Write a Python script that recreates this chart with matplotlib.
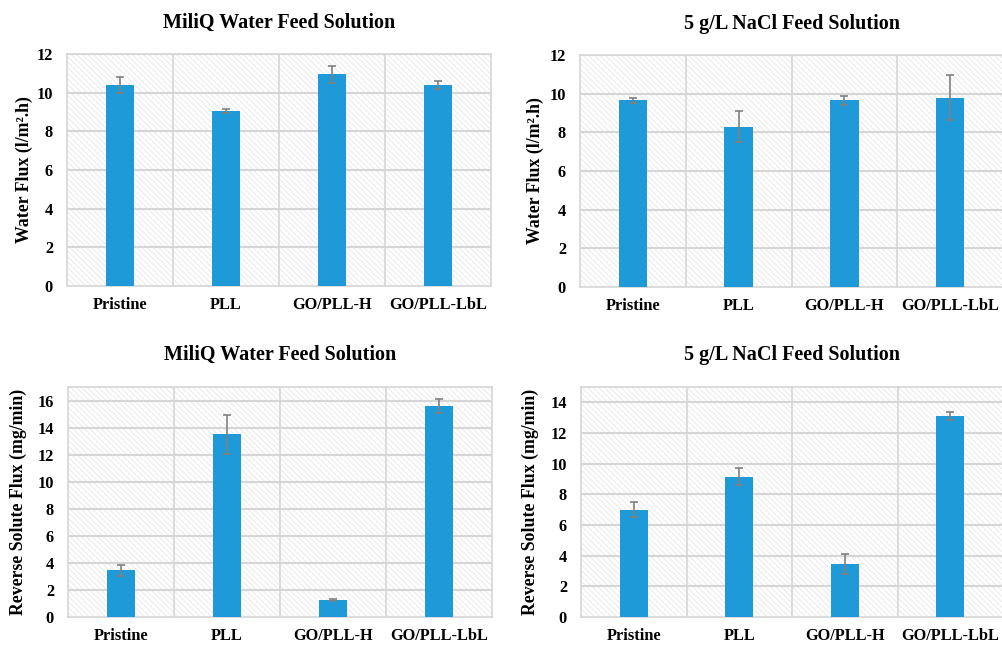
import matplotlib
matplotlib.use('Agg')
import matplotlib.pyplot as plt
from matplotlib.patches import Rectangle
import numpy as np

# membrane samples
categories = ['Pristine', 'PLL', 'GO/PLL-H', 'GO/PLL-LbL']

# water flux (l/m2.h)
wf_miliq = [10.4, 9.05, 10.95, 10.4]
wf_miliq_err = [0.4, 0.08, 0.45, 0.2]
wf_nacl = [9.65, 8.3, 9.65, 9.8]
wf_nacl_err = [0.15, 0.8, 0.25, 1.15]

# reverse solute flux (mg/min)
rsf_miliq = [3.45, 13.5, 1.25, 15.6]
rsf_miliq_err = [0.4, 1.45, 0.1, 0.5]
rsf_nacl = [7.0, 9.15, 3.45, 13.1]
rsf_nacl_err = [0.5, 0.55, 0.65, 0.25]

plt.rcParams['font.family'] = 'Liberation Serif'
plt.rcParams['font.weight'] = 'bold'
plt.rcParams['hatch.linewidth'] = 0.5

BAR = '#1f9ad8'
GRID = '#d6d6d6'
W, H = 1002, 647


def box(l, t, r, b):
	return [l / W, (H - b) / H, (r - l) / W, (b - t) / H]


def panel(fig, rect, vals, errs, title, ylabel, ymax, yticks, title_y, ylab_x):
	ax = fig.add_axes(rect)
	ax.add_patch(Rectangle((0, 0), 1, 1, transform=ax.transAxes, facecolor='white',
		edgecolor='#e2e2e2', hatch='\\\\\\\\\\\\', lw=0, zorder=0))
	x = np.arange(len(categories))
	ax.bar(x, vals, width=0.27, color=BAR, zorder=3)
	ax.errorbar(x, vals, yerr=errs, fmt='none', ecolor='#808080', elinewidth=1.2,
		capsize=3, capthick=1.2, zorder=4)
	ax.set_xlim(-0.5, len(categories) - 0.5)
	ax.set_ylim(0, ymax)
	ax.set_yticks(yticks)
	ax.set_xticks(x)
	ax.set_xticklabels(categories, fontsize=11.8, fontweight='bold')
	for t in ax.get_yticklabels():
		t.set_fontsize(11.8)
		t.set_fontweight('bold')
	ax.tick_params(length=0, axis='y', pad=10)
	ax.tick_params(length=0, axis='x', pad=8)
	for yt in yticks[1:]:
		ax.axhline(yt, color=GRID, lw=1.5, zorder=1)
	for xv in [0.5, 1.5, 2.5]:
		ax.axvline(xv, color=GRID, lw=1.2, zorder=1)
	for s in ax.spines.values():
		s.set_color(GRID)
		s.set_linewidth(1.2)
	pos = ax.get_position()
	# rotated axis label, placed in figure coordinates
	fig.text(ylab_x, pos.y0 + pos.height / 2, ylabel, rotation=90, ha='center',
		va='center', fontsize=12.8, fontweight='bold')
	fig.text(pos.x0 + pos.width / 2, title_y, title, ha='center', va='center',
		fontsize=14.5, fontweight='bold')
	return ax


def main():
	fig = plt.figure(figsize=(10.02, 6.47), dpi=100)
	panel(fig, box(67, 54, 491, 286), wf_miliq, wf_miliq_err, 'MiliQ Water Feed Solution',
		'Water Flux (l/m².h)', 12, np.arange(0, 13, 2), 1 - 23 / H, 24 / W)
	panel(fig, box(580, 55, 1003, 287), wf_nacl, wf_nacl_err, '5 g/L NaCl Feed Solution',
		'Water Flux (l/m².h)', 12, np.arange(0, 13, 2), 1 - 24 / H, 535 / W)
	panel(fig, box(68, 387, 492, 617), rsf_miliq, rsf_miliq_err, 'MiliQ Water Feed Solution',
		'Reverse Solute Flux (mg/min)', 17, np.arange(0, 17, 2), 1 - 355 / H, 18 / W)
	panel(fig, box(581, 387, 1003, 617), rsf_nacl, rsf_nacl_err, '5 g/L NaCl Feed Solution',
		'Reverse Solute Flux (mg/min)', 15, np.arange(0, 15, 2), 1 - 355 / H, 530 / W)
	fig.savefig('out.png', dpi=100, facecolor='white')


if __name__ == '__main__':
	main()
